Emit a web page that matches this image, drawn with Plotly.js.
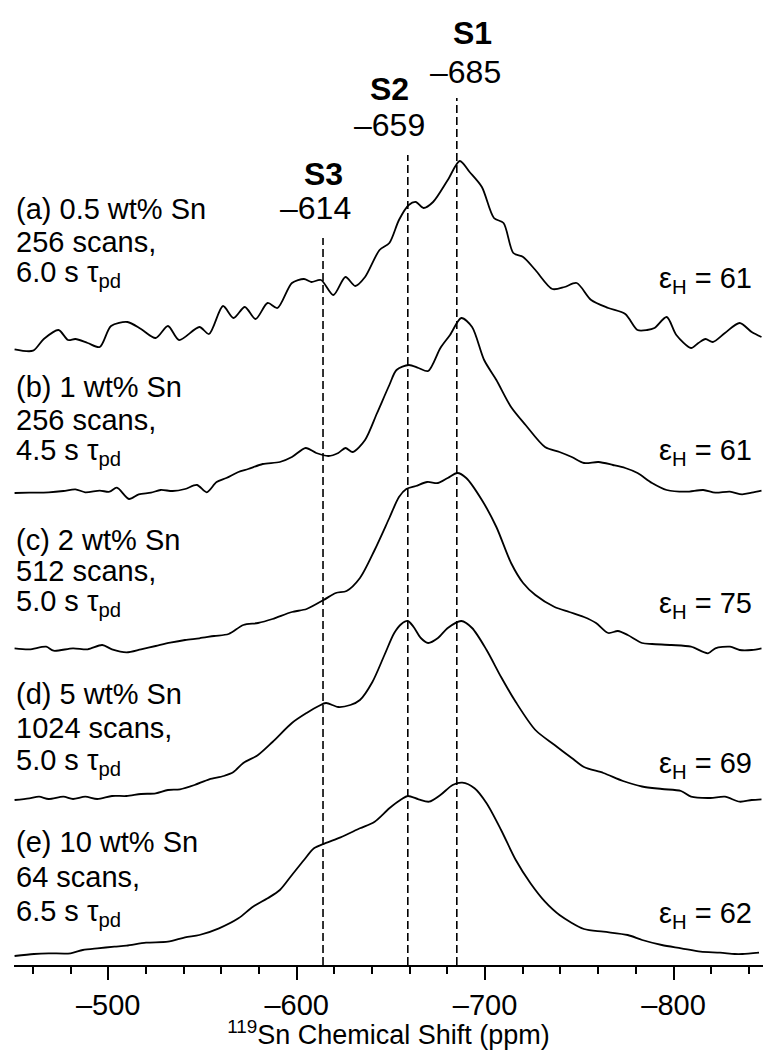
<!DOCTYPE html>
<html>
<head>
<meta charset="utf-8">
<script src="https://cdn.plot.ly/plotly-3.0.1.min.js"></script>
<style>
  html, body { margin: 0; padding: 0; background: #ffffff; }
  #chart { width: 763px; height: 1050px; }
</style>
</head>
<body>
<div id="chart"></div>
<script>
// 119Sn NMR spectra of Sn-loaded samples, stacked from (a) top to (e) bottom.
// Each spectrum: chemical shift (ppm) and intensity above its own baseline (a.u.).

const shiftA = [-450.3,-460.1,-465.8,-473.6,-478.7,-482.6,-489.1,-495.5,-501.5,-510.2,-517.4,-525.2,-531.7,-537.6,-548.4,-553.5,-560.9,-566.5,-572.5,-578.2,-584.6,-589.8,-597.5,-603.9,-607.8,-612.9,-619.5,-625.9,-631.1,-636.3,-644.0,-649.2,-654.3,-659.5,-663.3,-667.3,-672.4,-680.2,-686.6,-691.8,-698.3,-704.7,-709.8,-715.0,-720.2,-726.7,-735.7,-742.2,-748.6,-756.3,-765.4,-774.4,-780.9,-786.0,-789.9,-796.4,-801.5,-809.3,-813.2,-817.0,-820.9,-827.3,-835.1,-841.5,-846.7];
const intA   = [0.7,-0.7,11,20,10,11,7,3,24,28,21,12,24,10,23,16,44,32,43,31,47,42,67,71,68,70,55,73,64,73,100,107,130,145,148,142,148,170,189,178,163,132,127,97,93,80,61,63,67,50,42,36,20,20,22,33,15,2,7,11,8,17,27,18,13];

const shiftB = [-450.3,-458.1,-468.4,-476.2,-482.6,-487.8,-495.5,-500.7,-504.6,-511.0,-516.2,-522.7,-527.8,-534.2,-540.8,-547.1,-552.3,-557.5,-562.7,-569.1,-574.3,-582.0,-591.1,-597.5,-604.8,-610.4,-616.9,-622.1,-625.9,-629.8,-636.3,-642.7,-649.2,-653.0,-659.5,-664.7,-669.8,-676.3,-681.4,-687.4,-693.1,-699.5,-706.0,-713.8,-721.5,-731.8,-739.5,-746.0,-752.5,-760.2,-767.9,-774.4,-780.9,-788.6,-796.4,-806.7,-815.8,-822.2,-829.9,-836.4,-841.5,-846.7];
const intB   = [0,0.3,0.7,2,3.7,0.7,2.3,1.3,5.3,-6,-1.3,0.3,3,2,4,8,0.7,11,15,21,24,29,31,36,45,40,37,40,45,41,53,80,108,123,128,125,122,145,158,175,166,133,113,86,68,46,41,36,30,31,28,25,20,10,3,1.3,3,0.3,1.3,-1.3,0.3,2.3];

const shiftC = [-450.3,-458.1,-467.1,-471.0,-481.3,-489.1,-496.8,-502.0,-509.7,-517.4,-525.2,-532.9,-540.8,-548.4,-556.2,-563.9,-571.7,-579.5,-587.2,-597.5,-605.3,-614.3,-620.8,-626.5,-633.6,-641.4,-649.2,-654.3,-658.2,-663.3,-669.3,-675.0,-680.2,-685.3,-690.0,-698.3,-706.0,-713.8,-720.2,-726.7,-736.9,-744.7,-752.5,-758.9,-765.4,-770.5,-775.7,-783.3,-788.6,-798.9,-809.3,-818.3,-822.2,-830.0,-835.1,-841.5,-846.7];
const intC   = [0.7,-0.3,2.3,-1.7,0.7,-0.3,4,-0.3,-3.3,-0.3,3,6.3,9,10.7,13,15,24,26,30,37,40,49,56,58,71,99,131,152,160,163,167,166,171,176,171,149,122,86,66,54,42,37,32,26,16,18,14,6,5,4,2.3,-4.3,0.7,2.3,-1,-1,0.7];

const shiftD = [-450.3,-458.1,-463.3,-468.4,-476.2,-481.3,-487.8,-494.2,-502.0,-509.7,-517.4,-525.2,-531.7,-538.1,-545.8,-553.6,-561.3,-566.5,-571.7,-579.5,-587.2,-597.5,-605.3,-611.7,-615.6,-622.1,-628.5,-633.6,-640.2,-646.6,-651.8,-655.6,-659.0,-662.1,-665.9,-669.8,-675.0,-680.2,-687.4,-693.1,-700.8,-708.5,-716.3,-726.7,-736.9,-746.0,-752.5,-762.8,-773.2,-783.3,-793.9,-804.0,-809.3,-819.6,-827.3,-835.1,-841.5,-846.7];
const intD   = [-1,0.7,2.3,0,2.3,0,2.3,0,3,3,5,5.7,9,9.7,14,19.7,23,27,36,44,57,76,86,93,96,92,94,99,117,144,166,175,178,172,161,156,161,171,178,171,149,122,97,69,54,41,32,26,18,12.5,10,8,2.3,1,2.3,-2.7,-1,-0.3];

const shiftE = [-450.3,-460.6,-468.4,-480.0,-486.5,-494.2,-503.3,-509.7,-520.1,-531.7,-540.8,-548.4,-558.8,-569.1,-576.8,-584.6,-591.1,-597.5,-603.9,-609.2,-615.0,-623.3,-633.6,-641.4,-649.2,-655.6,-659.0,-664.7,-670.3,-676.3,-682.8,-687.9,-694.4,-700.8,-708.5,-716.3,-724.1,-731.8,-739.5,-752.5,-762.8,-775.7,-783.4,-793.8,-804.1,-814.4,-824.7,-832.5,-836.6,-845.4];
const intE   = [-1,1,1.7,1.7,5,6.7,8.3,9.3,12.3,13.3,17.7,20,26.7,36.7,48.3,56.7,65,80,95,106.7,111.7,117.7,126.7,133.3,146.7,155.7,159,155.7,153.3,160,170,172.3,166.7,151.7,125,95,71.7,53.3,40,26,23.3,20,15,10,6.7,3.3,2.3,1,1,2.3];

// sample descriptions
const sampleNames = ['(a) 0.5 wt% Sn', '(b) 1 wt% Sn', '(c) 2 wt% Sn', '(d) 5 wt% Sn', '(e) 10 wt% Sn'];
const scanCounts  = ['256 scans,', '256 scans,', '512 scans,', '1024 scans,', '64 scans,'];
const delays      = ['6.0', '4.5', '5.0', '5.0', '6.5'];
const epsilonH    = [61, 61, 75, 69, 62];

// assigned Sn sites
const siteNames  = ['S1', 'S2', 'S3'];
const siteShifts = [-685, -659, -614];

// x-axis ticks
const tickVals  = [-500, -600, -700, -800];
const tickTexts = ['\u2013500', '\u2013600', '\u2013700', '\u2013800'];

// ---- layout constants (stacking and label placement, in plot units) ----
const stackBase = [615, 472, 316, 166, 10];
const labelY = [[756, 723, 691], [578, 545, 513], [425, 394, 362], [271, 237, 203], [123, 88, 52]];
const epsY = [685, 513, 360, 200, 50];
const siteLineTop = [867, 810, 727];
const siteNameY = [932, 876, 791];
const siteValY = [893, 840, 757];
const siteNameShift = [16, -18, 0];
const siteValShift = [9, -18, -8];

const FONT = 'Liberation Sans, Arial, Helvetica, sans-serif';
const LABEL_SIZE = 29;
const spectra = [[shiftA, intA], [shiftB, intB], [shiftC, intC], [shiftD, intD], [shiftE, intE]];

const traces = [];
spectra.forEach(([sx, si], k) => {
  traces.push({
    x: sx,
    y: si.map(v => v + stackBase[k]),
    type: 'scatter', mode: 'lines',
    line: { color: '#000', width: 1.8, shape: 'spline', smoothing: 0.8 },
    hoverinfo: 'skip', showlegend: false
  });
});
siteShifts.forEach((s, i) => {
  traces.push({
    x: [s, s], y: [0, siteLineTop[i]],
    type: 'scatter', mode: 'lines',
    line: { color: '#000', width: 1.6, dash: '8px,4px' },
    hoverinfo: 'skip', showlegend: false
  });
});

const annotations = [];
const txt = (text, x, y, opts) => Object.assign({
  text, x, y, xref: 'x', yref: 'y', showarrow: false,
  font: { family: FONT, size: LABEL_SIZE, color: '#000' }, yanchor: 'middle'
}, opts);

sampleNames.forEach((name, k) => {
  const lines = [name, scanCounts[k], delays[k] + ' s \u03c4<sub>pd</sub>'];
  lines.forEach((t, j) => {
    annotations.push(txt(t, 0, labelY[k][j], { xref: 'paper', xanchor: 'left', xshift: 0 }));
  });
  annotations.push(txt('\u03b5<sub>H</sub> = ' + epsilonH[k], 1, epsY[k],
    { xref: 'paper', xanchor: 'right', xshift: -9 }));
});
siteNames.forEach((n, i) => {
  annotations.push(txt('<b>' + n + '</b>', siteShifts[i], siteNameY[i],
    { xanchor: 'center', xshift: siteNameShift[i], font: { family: FONT, size: 32, color: '#000' } }));
  annotations.push(txt('\u2013' + Math.abs(siteShifts[i]), siteShifts[i], siteValY[i],
    { xanchor: 'center', xshift: siteValShift[i], font: { family: FONT, size: 32, color: '#000' } }));
});

const layout = {
  width: 763, height: 1050,
  margin: { l: 14, r: 0, t: 0, b: 85, pad: 0 },
  paper_bgcolor: '#fff', plot_bgcolor: '#fff',
  showlegend: false,
  font: { family: FONT, color: '#000' },
  xaxis: {
    range: [-450, -847.5], autorange: false, fixedrange: true,
    showgrid: false, zeroline: false,
    showline: true, linecolor: '#000', linewidth: 2,
    tickmode: 'array', tickvals: tickVals, ticktext: tickTexts,
    ticks: 'outside', ticklen: 13, tickwidth: 2, tickcolor: '#000',
    tickfont: { family: FONT, size: 29, color: '#000' },
    minor: { tick0: -500, dtick: 20, ticks: 'outside', ticklen: 7, tickwidth: 2, tickcolor: '#000', showgrid: false },
    title: { text: '<sup>119</sup>Sn Chemical Shift (ppm)', font: { family: FONT, size: 27, color: '#000' }, standoff: 2 },
    automargin: false
  },
  yaxis: { range: [0, 965], autorange: false, visible: false, fixedrange: true },
  annotations
};

Plotly.newPlot('chart', traces, layout, { staticPlot: true, displayModeBar: false });
</script>
</body>
</html>
